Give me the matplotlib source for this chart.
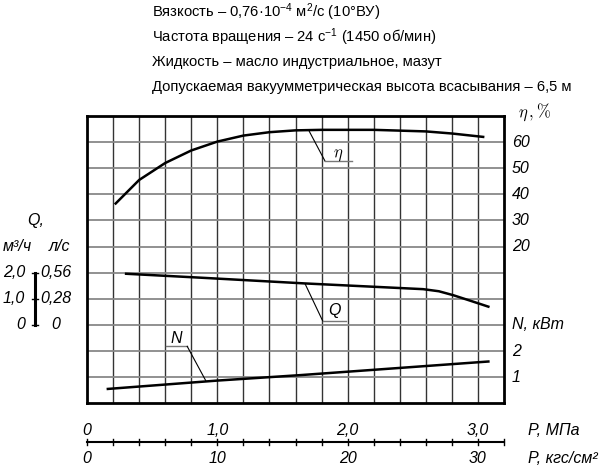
import numpy as np
import matplotlib
matplotlib.use('Agg')
import matplotlib.pyplot as plt
from matplotlib.transforms import blended_transform_factory as blend

# характеристики насоса, давление P в МПа
p_eta = [0.22, 0.40, 0.60, 0.80, 1.00, 1.20, 1.40, 1.60, 1.80, 2.20, 2.60, 2.80, 3.04]
eta = [36.5, 45.5, 52.0, 56.8, 60.2, 62.5, 63.8, 64.5, 64.7, 64.7, 64.1, 63.3, 62.0]

p_q = [0.30, 0.87, 1.67, 2.25, 2.58, 2.70, 2.81, 2.94, 3.08]
q = [1.96, 1.81, 1.59, 1.45, 1.37, 1.29, 1.14, 0.93, 0.70]   # м3/ч

p_n = [0.16, 1.00, 1.64, 3.08]
n = [0.55, 0.87, 1.08, 1.60]   # кВт

eta_ticks = [20, 30, 40, 50, 60]
n_ticks = [1, 2]
q_ticks = [0, 1, 2]
q_m3h_labels = ['0', '1,0', '2,0']
q_ls_labels = ['0', '0,28', '0,56']
p_ticks = [0, 1, 2, 3]
p_mpa_labels = ['0', '1,0', '2,0', '3,0']
p_kgf_labels = ['0', '10', '20', '30']

header = [
    'Вязкость – 0,76·10$^{-4}$ м$^2$/с (10°ВУ)',
    'Частота вращения – 24 с$^{-1}$ (1450 об/мин)',
    'Жидкость – масло индустриальное, мазут',
    'Допускаемая вакуумметрическая высота всасывания – 6,5 м',
]

plt.rcParams['mathtext.fontset'] = 'custom'
plt.rcParams['mathtext.rm'] = 'Liberation Sans'
plt.rcParams['mathtext.it'] = 'Liberation Sans:italic'

LBL = dict(family=['DejaVu Sans Condensed', 'Liberation Sans', 'DejaVu Sans'],
           style='italic', size=11.5)
HDR = dict(family=['Liberation Sans', 'DejaVu Sans'], size=10.6)

fig = plt.figure(figsize=(6.13, 4.73), dpi=100)
ax = fig.add_axes([87 / 613, 1 - 403.3 / 473, 417 / 613, 287.3 / 473])
ax.set_xlim(0, 3.2)
ax.set_ylim(-40, 70)
axq = ax.twinx()
axq.set_ylim(-3, 8)
axn = ax.twinx()
axn.set_ylim(0, 11)
for a in (axq, axn):
    a.axis('off')
ax.set_xticks([])
ax.set_yticks([])
for s in ax.spines.values():
    s.set_linewidth(2)

# сетка
for x in np.arange(0.2, 3.19, 0.2):
    ax.axvline(x, color='#333333', lw=1, zorder=1)
for y in range(-30, 70, 10):
    ax.axhline(y, color='#888888', lw=1.3, zorder=1)

ax.plot(p_eta, eta, color='black', lw=1.8, zorder=3)
axq.plot(p_q, q, color='black', lw=1.8, zorder=3)
axn.plot(p_n, n, color='black', lw=1.8, zorder=3)

# выноски
ax.plot([1.706, 1.827], [64.1, 52.7], color='black', lw=0.8)
ax.plot([1.827, 2.031], [52.7, 52.7], color='#777777', lw=1)
ax.text(1.924, 55.6, r'$\eta$', ha='center', va='center', size=12, math_fontfamily='cm')

axq.plot([1.673, 1.809], [1.58, 0.15], color='black', lw=0.8)
axq.plot([1.809, 1.985], [0.15, 0.15], color='#777777', lw=1)
axq.text(1.90, 0.55, 'Q', ha='center', va='center', **LBL)

axn.plot([0.604, 0.769], [2.18, 2.18], color='#777777', lw=1)
axn.plot([0.769, 0.911], [2.18, 0.87], color='black', lw=0.8)
axn.text(0.683, 2.50, 'N', ha='center', va='center', **LBL)

# правые шкалы
xr = 1 + 8 / 417
for v in eta_ticks:
    ax.text(xr, v, str(v), transform=blend(ax.transAxes, ax.transData),
            ha='left', va='center', **LBL)
ax.text(1 + 14 / 417, 71.5, r'$\eta\,,\%$', transform=blend(ax.transAxes, ax.transData),
        ha='left', va='center', size=12, math_fontfamily='cm')
for v in n_ticks:
    axn.text(xr, v, str(v), transform=blend(axn.transAxes, axn.transData),
             ha='left', va='center', **LBL)
axn.text(xr, 3, 'N, кВт', transform=blend(axn.transAxes, axn.transData),
         ha='left', va='center', **LBL)

# левая шкала подачи
tq = blend(axq.transAxes, axq.transData)
xb = (34.7 - 87) / 417
axq.plot([xb, xb], [0, 2], color='black', lw=2.2, transform=tq, clip_on=False)
for v, a, b in zip(q_ticks, q_m3h_labels, q_ls_labels):
    axq.plot([xb - 3 / 417, xb + 3 / 417], [v, v], color='black', lw=1,
             transform=tq, clip_on=False)
    axq.text((25 - 87) / 417, v, a, transform=tq, ha='right', va='center', **LBL)
    axq.text((56 - 87) / 417, v, b, transform=tq, ha='center', va='center', **LBL)
axq.text((36 - 87) / 417, 4, 'Q,', transform=tq, ha='center', va='center', **LBL)
axq.text((17 - 87) / 417, 3, 'м³/ч', transform=tq, ha='center', va='center', **LBL)
axq.text((60 - 87) / 417, 3, 'л/с', transform=tq, ha='center', va='center', **LBL)

# нижняя шкала давления
tp = blend(ax.transData, ax.transAxes)
yl = (403.3 - 442.3) / 287.3
ax.plot([0, 3.2], [yl, yl], color='black', lw=1.5, transform=tp, clip_on=False)
for x in np.arange(0, 3.21, 0.2):
    ax.plot([x, x], [yl - 3 / 287.3, yl + 3 / 287.3], color='black', lw=1,
            transform=tp, clip_on=False)
for x, a, b in zip(p_ticks, p_mpa_labels, p_kgf_labels):
    ax.text(x, (403.3 - 430) / 287.3, a, transform=tp, ha='center', va='center', **LBL)
    ax.text(x, (403.3 - 458) / 287.3, b, transform=tp, ha='center', va='center', **LBL)
ax.text(3.385, (403.3 - 430) / 287.3, 'P, МПа', transform=tp, ha='left', va='center', **LBL)
ax.text(3.385, (403.3 - 458) / 287.3, 'P, кгс/см²', transform=tp, ha='left', va='center', **LBL)

# заголовок
for i, line in enumerate(header):
    fig.text(151.7 / 613, 1 - (17 + 24.6 * i) / 473, line, ha='left', va='baseline',
             math_fontfamily='custom', **HDR)

fig.savefig('out.png', dpi=100)
